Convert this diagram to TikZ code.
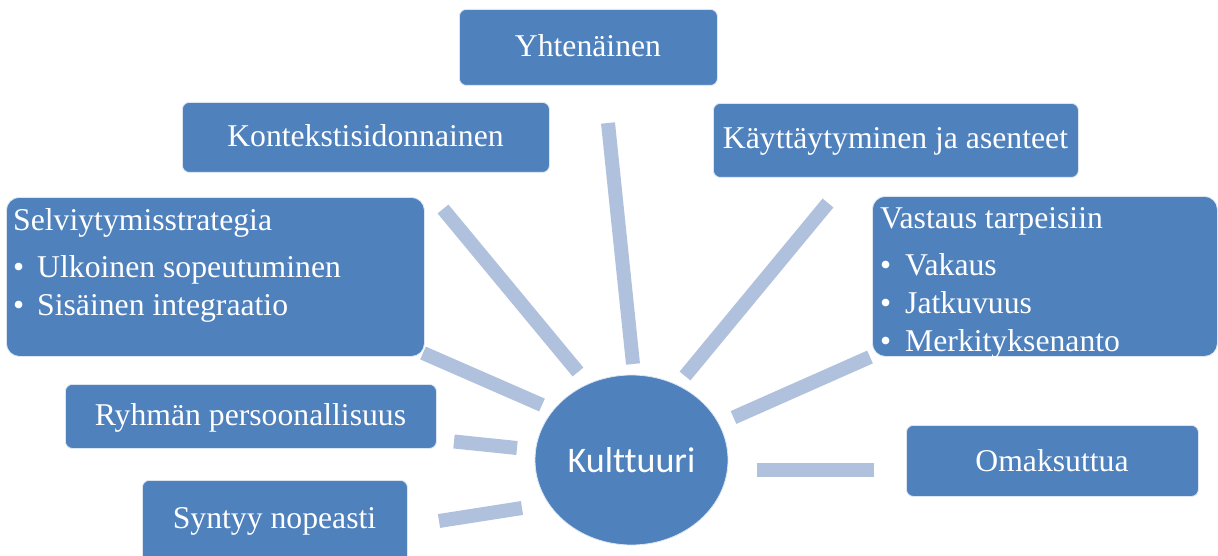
\documentclass[tikz,border=0pt]{standalone}
\usepackage{fontspec}
\setmainfont{Liberation Serif}
\newfontfamily\calibri[Ligatures=NoCommon]{Carlito}
\usetikzlibrary{shapes.geometric}
\definecolor{boxblue}{RGB}{79,129,189}
\definecolor{barblue}{RGB}{176,193,221}
\begin{document}
\begin{tikzpicture}[x=1pt,y=-1pt,
  box/.style={fill=boxblue, draw=white!80!boxblue, line width=0.8pt, rounded corners=7pt, inner sep=0pt, anchor=north west},
  bigbox/.style={box, rounded corners=13pt},
  txt/.style={text=white, inner sep=0pt, font=\fontsize{31.7}{38}\selectfont},
  bar/.style={draw=barblue, line width=14pt}]
\useasboundingbox (0,0) rectangle (1218,556);
\clip (0,0) rectangle (1218,556);

% connectors
\coordinate (kA) at (443,209);   \coordinate (kB) at (578,372);
\coordinate (yA) at (608,123);   \coordinate (yB) at (633,364);
\coordinate (aA) at (828,203);   \coordinate (aB) at (685,376);
\coordinate (vA) at (870,357);   \coordinate (vB) at (733.5,417.5);
\coordinate (sA) at (423,353);   \coordinate (sB) at (542,405);
\coordinate (rA) at (454,441.5); \coordinate (rB) at (517,448);
\coordinate (nA) at (439,521);   \coordinate (nB) at (522,508);
\coordinate (oA) at (874,470);   \coordinate (oB) at (757,470);
\foreach \a/\b in {kA/kB,yA/yB,aA/aB,vA/vB,sA/sB,rA/rB,nA/nB,oA/oB}
  \draw[bar] (\a) -- (\b);

% boxes
\node[box, minimum width=258pt, minimum height=76pt] (yht) at (459,9) {};
\node[box, minimum width=367pt, minimum height=70pt] (kon) at (182,102) {};
\node[box, minimum width=365pt, minimum height=74pt] (kay) at (713,103) {};
\node[bigbox, minimum width=418pt, minimum height=159pt] (sel) at (6,197) {};
\node[bigbox, minimum width=345pt, minimum height=160pt] (vas) at (872,196) {};
\node[box, minimum width=371pt, minimum height=64pt] (ryh) at (65,384) {};
\node[box, minimum width=265pt, minimum height=90pt] (syn) at (142,480) {};
\node[box, minimum width=292pt, minimum height=71pt] (oma) at (906,425) {};
\node[ellipse, fill=boxblue, draw=white!80!boxblue, line width=0.8pt, inner sep=0pt,
      minimum width=193pt, minimum height=170pt, text=white,
      font=\calibri\fontsize{36}{43}\selectfont] (kul) at (631.5,460) {Kulttuuri};

% texts
\node[txt, anchor=base] (yht-t) at (588,57) {Yhtenäinen};
\node[txt, anchor=base] (kon-t) at (365.5,147) {Kontekstisidonnainen};
\node[txt, anchor=base] (kay-t) at (895.5,149) {Käyttäytyminen ja asenteet};
\node[txt, anchor=base] (ryh-t) at (250.5,425) {Ryhmän persoonallisuus};
\node[txt, anchor=base] (syn-t) at (274.5,528) {Syntyy nopeasti};
\node[txt, anchor=base] (oma-t) at (1052,471) {Omaksuttua};

\node[txt, anchor=base west] (sel-t) at (13,230.5) {Selviytymisstrategia};
\node[txt, anchor=base west] (sel-b1) at (13,277) {•};
\node[txt, anchor=base west] (sel-1) at (37,277) {Ulkoinen sopeutuminen};
\node[txt, anchor=base west] (sel-b2) at (13,315) {•};
\node[txt, anchor=base west] (sel-2) at (37,315) {Sisäinen integraatio};

\node[txt, anchor=base west] (vas-t) at (880,228.5) {Vastaus tarpeisiin};
\node[txt, anchor=base west] (vas-b1) at (880,275) {•};
\node[txt, anchor=base west] (vas-1) at (905,275) {Vakaus};
\node[txt, anchor=base west] (vas-b2) at (880,313) {•};
\node[txt, anchor=base west] (vas-2) at (905,313) {Jatkuvuus};
\node[txt, anchor=base west] (vas-b3) at (880,351) {•};
\node[txt, anchor=base west] (vas-3) at (905,351) {Merkityksenanto};
\end{tikzpicture}
\end{document}
